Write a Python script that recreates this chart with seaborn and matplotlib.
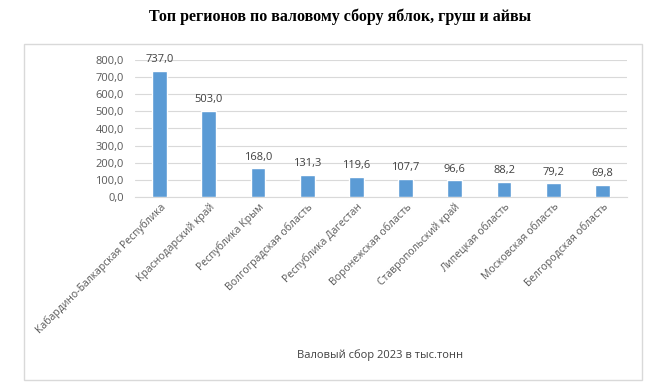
import matplotlib
matplotlib.use("Agg")
import matplotlib.pyplot as plt
import seaborn as sns
import pandas as pd
from matplotlib.patches import Rectangle

regions = [
    "Кабардино-Балкарская Республика",
    "Краснодарский край",
    "Республика Крым",
    "Волгоградская область",
    "Республика Дагестан",
    "Воронежская область",
    "Ставропольский край",
    "Липецкая область",
    "Московская область",
    "Белгородская область",
]
values = [737.0, 503.0, 168.0, 131.3, 119.6, 107.7, 96.6, 88.2, 79.2, 69.8]
y_ticks = [0, 100, 200, 300, 400, 500, 600, 700, 800]
title = "Топ регионов по валовому сбору яблок, груш и айвы"
x_title = "Валовый сбор 2023 в тыс.тонн"

df = pd.DataFrame({"region": regions, "value": values})

sns.set_theme(style="white")
plt.rcParams["font.family"] = ["Open Sans", "DejaVu Sans"]

W, H = 663, 388
fig = plt.figure(figsize=(W / 100, H / 100), dpi=100)
fig.patch.set_facecolor("white")

# chart frame
fig.patches.append(Rectangle((24 / W, 1 - 380 / H), (642 - 24) / W, (380 - 44) / H,
                             transform=fig.transFigure, fill=False,
                             edgecolor="#d9d9d9", linewidth=1.0, zorder=0))

ax = fig.add_axes([135 / W, 1 - 197 / H, (627 - 135) / W, (197 - 60) / H])
sns.barplot(data=df, x="region", y="value", color="#5b9bd5", width=0.3,
            saturation=1, ax=ax, zorder=3)

ax.set_ylim(0, 800)
ax.set_yticks(y_ticks)
ax.set_yticklabels([f"{v:.1f}".replace(".", ",") for v in y_ticks],
                   fontsize=8, color="#595959")
ax.yaxis.grid(True, color="#d9d9d9", linewidth=0.8, zorder=0)
ax.set_axisbelow(True)
for s in ["top", "right", "left"]:
    ax.spines[s].set_visible(False)
ax.spines["bottom"].set_color("#d9d9d9")
ax.spines["bottom"].set_linewidth(0.8)
ax.tick_params(axis="both", length=0, pad=8)
ax.tick_params(axis="x", pad=3)
ax.set_xlim(-0.5, len(regions) - 0.5)

ax.set_xticks(range(len(regions)))
ax.set_xticklabels(regions, rotation=45, ha="right", rotation_mode="anchor",
                   fontsize=7.5, color="#595959")
ax.set_xlabel("")
ax.set_ylabel("")

for i, v in enumerate(values):
    ax.annotate(f"{v:.1f}".replace(".", ","), (i, v), xytext=(0, 4),
                textcoords="offset points", ha="center", va="bottom",
                fontsize=8, color="#404040")

fig.text(380 / W, 1 - 355 / H, x_title, ha="center", va="center",
         fontsize=8, color="#404040")
fig.text(340 / W, 1 - 17 / H, title, ha="center", va="center",
         fontsize=11.5, fontweight="bold", family="Liberation Serif", color="black")

fig.savefig("out.png", dpi=100, facecolor="white")
